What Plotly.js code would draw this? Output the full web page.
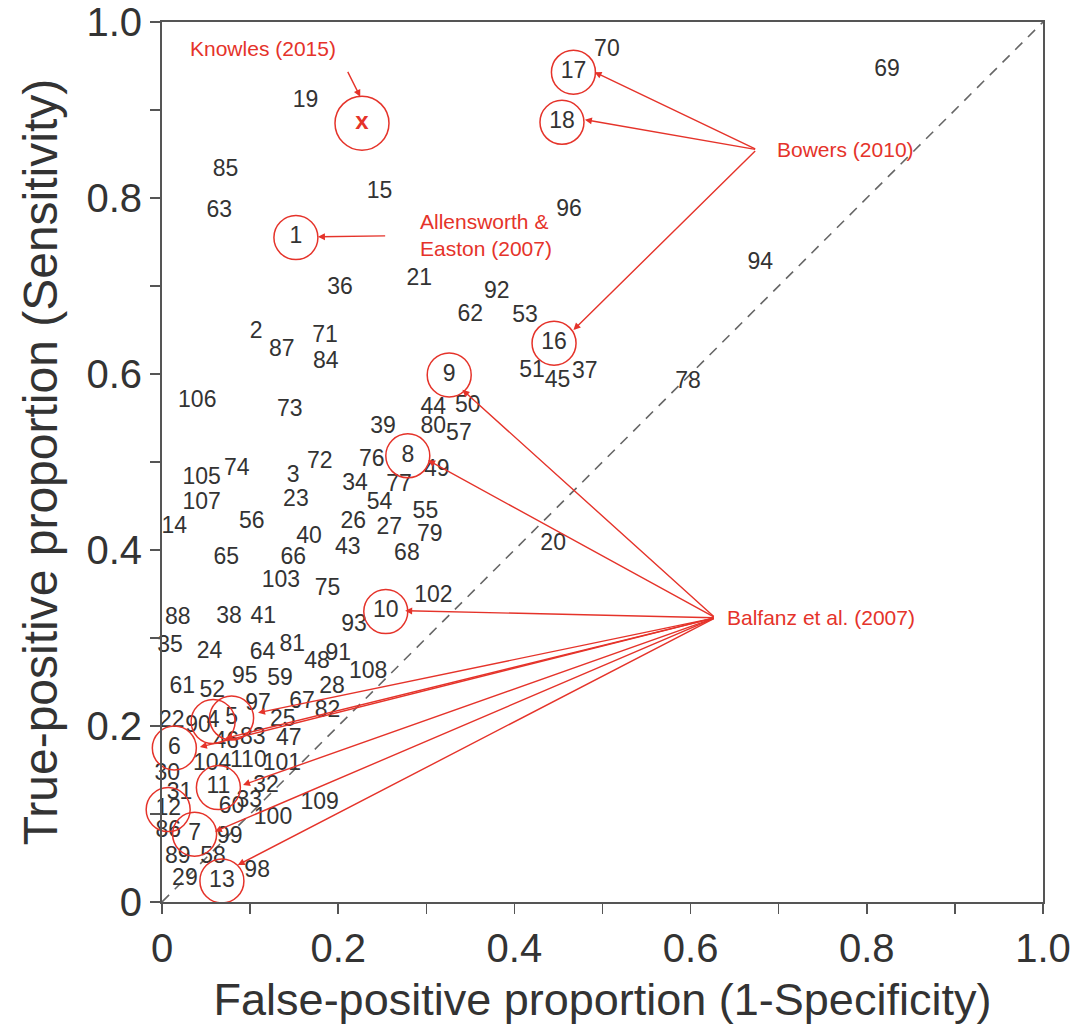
<!DOCTYPE html>
<html>
<head>
<meta charset="utf-8">
<script src="https://cdn.plot.ly/plotly-3.0.1.min.js"></script>
<style>html,body{margin:0;padding:0;background:#fff;}#chart{width:1091px;height:1035px;}</style>
</head>
<body>
<div id="chart"></div>
<script>
// Study labels and their (false-positive proportion, true-positive proportion)
var labels = ['1','2','3','4','5','6','7','8','9','10','11','12','13','14','15','16','17','18','19','20',
  '21','22','23','24','25','26','27','28','29','30','31','32','33','34','35','36','37','38','39','40',
  '41','43','44','45','46','47','48','49','50','51','52','53','54','55','56','57','58','59','60',
  '61','62','63','64','65','66','67','68','69','70','71','72','73','74','75','76','77','78','79','80',
  '81','82','83','84','85','86','87','88','89','90','91','92','93','94','95','96','97','98','99','100',
  '101','102','103','104','105','106','107','108','109','110'];
var fpr = [0.152,0.107,0.149,0.058,0.079,0.014,0.037,0.279,0.326,0.254,0.064,0.007,0.068,0.014,0.247,0.445,0.467,0.454,0.163,0.444,
  0.292,0.011,0.152,0.054,0.137,0.217,0.258,0.193,0.026,0.006,0.020,0.118,0.099,0.219,0.009,0.202,0.480,0.076,0.251,0.167,
  0.115,0.211,0.308,0.449,0.073,0.144,0.176,0.312,0.347,0.420,0.057,0.412,0.247,0.299,0.102,0.337,0.058,0.134,0.079,
  0.023,0.350,0.065,0.114,0.073,0.149,0.159,0.278,0.823,0.505,0.185,0.179,0.145,0.085,0.188,0.238,0.269,0.597,0.304,0.308,
  0.148,0.188,0.103,0.186,0.072,0.007,0.136,0.018,0.018,0.041,0.200,0.380,0.218,0.679,0.094,0.462,0.109,0.108,0.077,0.126,
  0.136,0.308,0.135,0.057,0.045,0.040,0.045,0.234,0.179,0.098];
var tpr = [0.755,0.648,0.484,0.205,0.209,0.175,0.077,0.507,0.599,0.330,0.130,0.105,0.024,0.426,0.807,0.635,0.943,0.886,0.910,0.407,
  0.708,0.205,0.456,0.284,0.207,0.432,0.425,0.244,0.026,0.145,0.124,0.132,0.115,0.475,0.291,0.698,0.602,0.324,0.540,0.414,
  0.324,0.402,0.561,0.592,0.182,0.185,0.272,0.491,0.563,0.603,0.239,0.666,0.453,0.443,0.432,0.532,0.051,0.253,0.108,
  0.244,0.667,0.785,0.283,0.391,0.391,0.227,0.395,0.945,0.968,0.643,0.500,0.559,0.492,0.355,0.502,0.474,0.591,0.417,0.540,
  0.292,0.217,0.186,0.613,0.832,0.080,0.627,0.322,0.051,0.200,0.281,0.693,0.315,0.726,0.255,0.786,0.225,0.035,0.074,0.095,
  0.157,0.347,0.364,0.157,0.482,0.569,0.453,0.261,0.112,0.160];

// Highlighted studies (circled)
var circled = ['1','4','5','6','7','8','9','10','11','12','13','16','17','18'];
// Knowles (2015) point
var knowlesX = [0.227], knowlesY = [0.885];

// Callout groups: label text, label anchor, arrow origin, and targeted studies
var groups = [
  {text:'Knowles (2015)', tx:0.115, ty:0.970, anchor:'center', ox:0.210, oy:0.945, heads:[[0.225,0.915]]},
  {text:'Allensworth &<br>Easton (2007)', tx:0.291, ty:0.758, anchor:'left', ox:0.255, oy:0.757, heads:[[0.177,0.756]]},
  {text:'Bowers (2010)', tx:0.696, ty:0.855, anchor:'left', ox:0.675, oy:0.855, heads:[[0.491,0.943],[0.480,0.889],[0.467,0.650]]},
  {text:'Balfanz et al. (2007)', tx:0.639, ty:0.323, anchor:'left', ox:0.628, oy:0.323,
    heads:[[0.341,0.582],[0.302,0.502],[0.276,0.331],[0.109,0.215],[0.072,0.186],[0.043,0.176],[0.092,0.133],[0.060,0.080],[0.086,0.042]]}
];

var RED = '#e5332a';
var FONT = 'Liberation Sans, Arial, Helvetica, sans-serif';

var cx = [], cy = [];
circled.forEach(function(l){ var i = labels.indexOf(l); cx.push(fpr[i]); cy.push(tpr[i]); });

var traces = [
  {x:[0,1], y:[0,1], mode:'lines', line:{color:'#666', width:1.6, dash:'10px,8px'}, hoverinfo:'skip'},
  {x:fpr, y:tpr, text:labels, mode:'text', textposition:'middle center', cliponaxis:false,
   textfont:{family:FONT, size:23, color:'#333'}, hoverinfo:'text'},
  {x:cx, y:cy, mode:'markers', cliponaxis:false, marker:{symbol:'circle-open', size:44, color:RED, line:{width:1.5, color:RED}}, hoverinfo:'skip'},
  {x:knowlesX, y:knowlesY, mode:'markers+text', text:['<b>x</b>'], textposition:'middle center', cliponaxis:false,
   textfont:{family:FONT, size:24, color:RED},
   marker:{symbol:'circle-open', size:54, color:RED, line:{width:1.5, color:RED}}, hoverinfo:'skip'}
];

var annotations = [];
groups.forEach(function(g){
  annotations.push({x:g.tx, y:g.ty, xref:'x', yref:'y', text:g.text, showarrow:false, xanchor:g.anchor, yanchor:'middle',
    align:'left', font:{family:FONT, size:21, color:RED}});
  g.heads.forEach(function(h){
    annotations.push({x:h[0], y:h[1], xref:'x', yref:'y', ax:g.ox, ay:g.oy, axref:'x', ayref:'y', text:'',
      showarrow:true, arrowhead:2, arrowsize:1, arrowwidth:1.4, arrowcolor:RED, standoff:0, startstandoff:0});
  });
});

var axisCommon = {
  range:[0,1], showgrid:false, zeroline:false, showline:true, mirror:true, linecolor:'#555', linewidth:2,
  ticks:'outside', ticklen:10, tickwidth:1.5, tickcolor:'#555',
  tickvals:[0,0.2,0.4,0.6,0.8,1.0], ticktext:['0','0.2','0.4','0.6','0.8','1.0'],
  minor:{dtick:0.1, ticks:'outside', ticklen:10, tickwidth:1.5, tickcolor:'#555'},
  tickfont:{family:FONT, size:40, color:'#333'}, fixedrange:true
};

var layout = {
  width:1091, height:1035, showlegend:false,
  margin:{l:162, r:48, t:22, b:133},
  paper_bgcolor:'#fff', plot_bgcolor:'#fff',
  xaxis:Object.assign({}, axisCommon, {title:{text:'False-positive proportion (1-Specificity)', font:{family:FONT, size:45, color:'#333'}, standoff:14}}),
  yaxis:Object.assign({}, axisCommon, {title:{text:'True-positive proportion (Sensitivity)', font:{family:FONT, size:48, color:'#333'}, standoff:14}}),
  annotations:annotations
};

Plotly.newPlot('chart', traces, layout, {displayModeBar:false, staticPlot:true});
</script>
</body>
</html>
